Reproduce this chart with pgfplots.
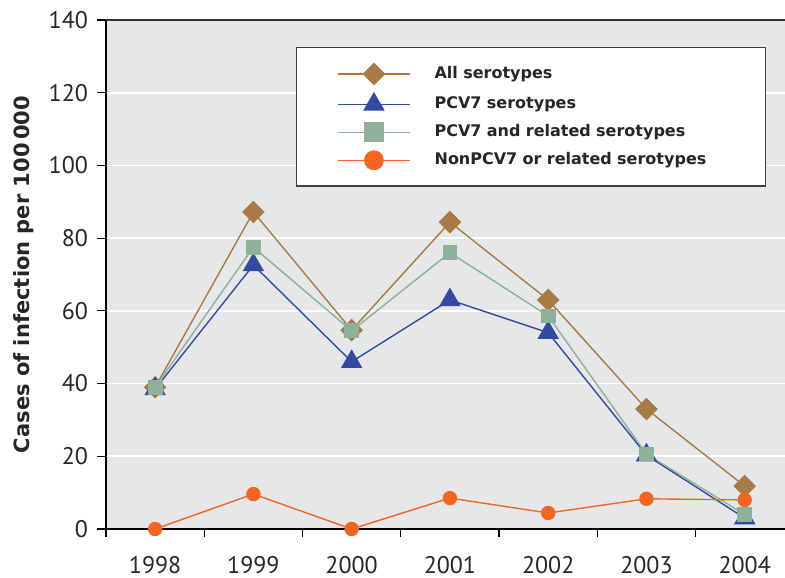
\documentclass[border=0pt]{standalone}
\usepackage{pgfplots}
\pgfplotsset{compat=1.18}
\usepackage{fontspec}
\setmainfont{PT Sans}
\newfontfamily\labfont{DejaVu Sans}
\definecolor{bggray}{RGB}{230,231,233}
\definecolor{cAll}{RGB}{168,122,69}
\definecolor{cPCV}{RGB}{52,74,160}
\definecolor{cRel}{RGB}{143,176,154}
\definecolor{cNon}{RGB}{242,101,34}
\begin{document}
\begin{tikzpicture}
\begin{axis}[
  scale only axis,
  width=339.5pt, height=254.5pt,
  xmin=1997.5, xmax=2004.41,
  ymin=0, ymax=140,
  axis x line*=bottom, axis y line*=left,
  axis line style={black, line width=0.6pt},
  axis background/.style={fill=bggray},
  xtick={1998,1999,2000,2001,2002,2003,2004},
  xticklabels={1998,1999,2000,2001,2002,2003,2004},
  major x tick style={draw=none},
  minor xtick={1997.5,1998.5,1999.5,2000.5,2001.5,2002.5,2003.5},
  minor x tick style={black, line width=0.6pt},
  ytick={0,20,40,60,80,100,120},
  extra y ticks={140},
  extra y tick style={grid style={black!80, line width=0.8pt}},
  ymajorgrids,
  grid style={white, line width=0.8pt},
  tick align=outside,
  major tick length=4.5pt, minor tick length=4pt,
  y tick style={black, line width=0.6pt},
  tick label style={font=\fontsize{12}{14}\selectfont, text=black!85},
  /pgf/number format/assume math mode=true,
  /pgf/number format/1000 sep={},
  xticklabel style={yshift=-5.5pt},
  yticklabel style={xshift=-1pt},
  ylabel={Cases of infection per 100\,000},
  ylabel style={font=\labfont\bfseries\fontsize{10.5}{12}\selectfont, text=black!85, yshift=-8.5pt},
  legend style={at={(rel axis cs:0.2798,0.947)}, anchor=north west,
    draw=black!75, line width=0.7pt, fill=white,
    inner xsep=20.5pt, inner ysep=8pt,
    font=\labfont\bfseries\fontsize{8}{10}\selectfont, text=black!85,
    row sep=4.5pt, column sep=10.2pt,
    nodes={text width=143pt, align=left, text height=6.5pt, text depth=2pt, inner ysep=0.5pt}},
  legend cell align=left,
  legend image code/.code={\draw[mark repeat=2,mark phase=2] plot coordinates {(0cm,0cm)(0.625cm,0cm)(1.25cm,0cm)};},
]
\coordinate (sw) at (rel axis cs:0,0);
\coordinate (ne) at (rel axis cs:1,1);
\addplot[cAll, line width=0.7pt, mark=square*, mark size=3.65pt, mark options={rotate=45, fill=cAll, draw=cAll}]
  coordinates {(1998,39) (1999,87.2) (2000,54.7) (2001,84.4) (2002,63) (2003,33) (2004,11.8)};
\addlegendentry{All serotypes}
\addplot[cPCV, line width=0.7pt, mark=triangle*, mark size=5.5pt, mark options={fill=cPCV, draw=cPCV}]
  coordinates {(1998,38.5) (1999,72.6) (2000,46) (2001,63) (2002,54) (2003,20.3) (2004,3)};
\addlegendentry{PCV7 serotypes}
\addplot[cRel, line width=0.7pt, mark=square*, mark size=3.35pt, mark options={fill=cRel, draw=cRel},
  legend image post style={mark size=4.6pt}]
  coordinates {(1998,39) (1999,77.5) (2000,54.5) (2001,76) (2002,58.6) (2003,20.6) (2004,4)};
\addlegendentry{PCV7 and related serotypes}
\addplot[cNon, line width=0.7pt, mark=*, mark size=3.25pt, mark options={fill=cNon, draw=cNon},
  legend image post style={mark size=4.6pt}]
  coordinates {(1998,0) (1999,9.6) (2000,0) (2001,8.5) (2002,4.4) (2003,8.3) (2004,8)};
\addlegendentry{NonPCV7 or related serotypes}
\end{axis}
\pgfresetboundingbox
\path ([xshift=-53pt,yshift=-24.5pt]sw) rectangle ([yshift=10pt]ne);
\end{tikzpicture}
\end{document}
